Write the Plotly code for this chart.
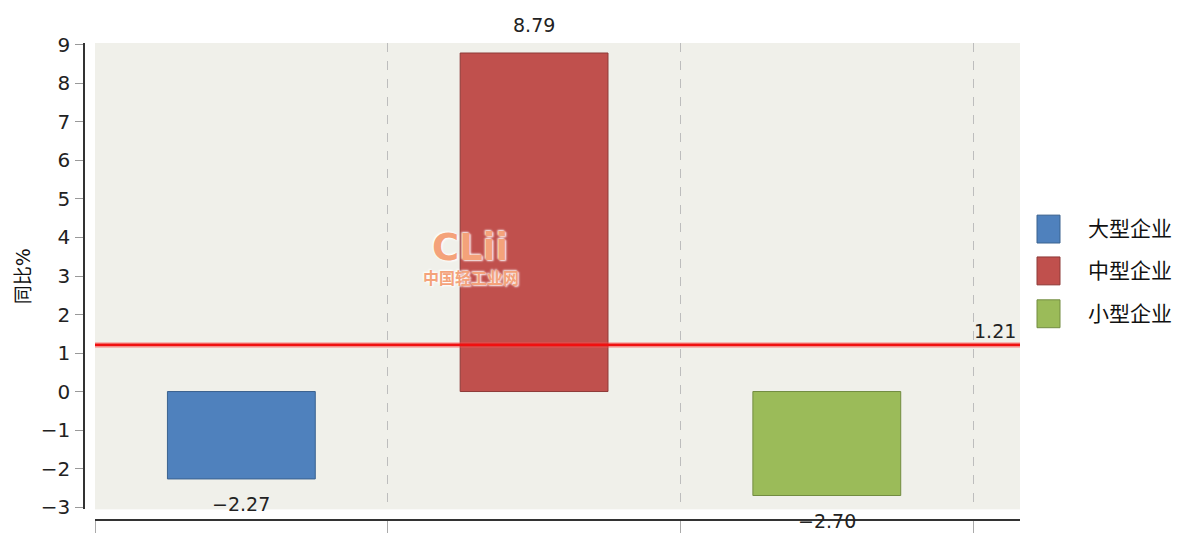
import plotly.graph_objects as go

categories = ["大型企业", "中型企业", "小型企业"]
values = [-2.27, 8.79, -2.70]
average = 1.21
colors = ["#4F81BD", "#C0504D", "#9BBB59"]
outlines = ["#3B628F", "#8E3A38", "#728C41"]
y_ticks = list(range(-3, 10))

# the photographed page appears vertically compressed by ~533/542
K = 542 / 533
W, H = 1177, 542
L, R, B = 80, 157, 0
T = round(42 * K)
pw, ph = W - L - R, H - T - B


def px_x(x_ref):
    return (x_ref - L) / pw


def px_y(y_ref):
    return (H - B - y_ref * K) / ph


fig = go.Figure()

xpos = list(range(len(categories)))
for i, (c, v) in enumerate(zip(categories, values)):
    fig.add_trace(go.Bar(
        x=[xpos[i]], y=[v], name=c, width=0.505,
        marker=dict(color=colors[i], line=dict(color=outlines[i], width=1)),
        showlegend=False, hoverinfo="y",
    ))
    fig.add_annotation(
        x=xpos[i], y=v, text=f"{v:.2f}".replace("-", "−"), showarrow=False,
        yanchor="bottom" if v >= 0 else "top", yshift=15 if v >= 0 else -12,
        font=dict(size=19, color="#222"),
    )

x_lo, x_hi = -0.5, 2.66
# average line (glow + core)
fig.add_trace(go.Scatter(x=[x_lo, x_hi], y=[average, average], mode="lines",
                         line=dict(color="rgba(255,80,80,0.35)", width=6),
                         showlegend=False, hoverinfo="skip"))
fig.add_trace(go.Scatter(x=[x_lo, x_hi], y=[average, average], mode="lines",
                         line=dict(color="#F01010", width=2.8),
                         showlegend=False, hoverinfo="y"))
fig.add_annotation(x=x_hi, y=average, text=f"{average:.2f}", showarrow=False,
                   xanchor="right", yanchor="bottom", xshift=-2, yshift=1,
                   font=dict(size=19, color="#222"))

# custom legend
leg_y = [229, 271, 314]
for i, c in enumerate(categories):
    yc = leg_y[i]
    fig.add_shape(type="rect", xref="paper", yref="paper",
                  x0=px_x(1037), x1=px_x(1060),
                  y0=px_y(yc + 14), y1=px_y(yc - 14),
                  fillcolor=colors[i], line=dict(color=outlines[i], width=1))
    fig.add_annotation(xref="paper", yref="paper", x=px_x(1086),
                       y=px_y(yc), text=c, showarrow=False,
                       xanchor="left", yanchor="middle",
                       font=dict(size=21, color="#111"))

# watermark
fig.add_annotation(xref="paper", yref="paper", x=px_x(470), y=px_y(248),
                   text="<b>CLii</b>", showarrow=False,
                   font=dict(size=37, color="#F4A27A", family="DejaVu Sans",
                             shadow="1px 1px 2px white, -1px -1px 2px white"))
fig.add_annotation(xref="paper", yref="paper", x=px_x(471), y=px_y(279),
                   text="<b>中国轻工业网</b>", showarrow=False,
                   font=dict(size=16, color="#F4A27A",
                             shadow="1px 1px 2px white, -1px -1px 2px white"))

fig.update_layout(
    width=W, height=H, autosize=False,
    margin=dict(l=L, r=R, t=T, b=B, pad=0),
    paper_bgcolor="white", plot_bgcolor="#F0F0EA",
    barmode="overlay",
    font=dict(family="DejaVu Sans, Noto Sans CJK SC, sans-serif", size=18, color="#222"),
    xaxis=dict(
        domain=[px_x(95), 1], range=[x_lo, x_hi],
        tickvals=[-0.5, 0.5, 1.5, 2.5], showticklabels=False,
        ticks="outside", ticklen=13, tickcolor="#AAAAAA",
        showgrid=True, gridcolor="#BDBDBD", griddash="dash", gridwidth=1,
        zeroline=False, showline=True, linecolor="#333333", linewidth=2,
        anchor="free", position=px_y(521),
    ),
    yaxis=dict(
        domain=[px_y(510.3), 1], range=[-3.06, 9.05],
        tickvals=y_ticks, ticktext=[str(t).replace("-", "−") for t in y_ticks],
        ticks="outside", ticklen=8, tickcolor="#999999",
        ticklabelstandoff=1,
        tickfont=dict(size=20, color="#222"),
        showgrid=False, zeroline=False,
        showline=True, linecolor="#333333", linewidth=1.5,
        anchor="free", position=px_x(84),
        title=dict(text="同比%", font=dict(size=19, color="#111"), standoff=4),
    ),
)

fig.write_html(
    "out.html",
    config={"displayModeBar": False},
    post_script="document.body.style.margin='0';document.body.style.overflow='hidden';",
)
